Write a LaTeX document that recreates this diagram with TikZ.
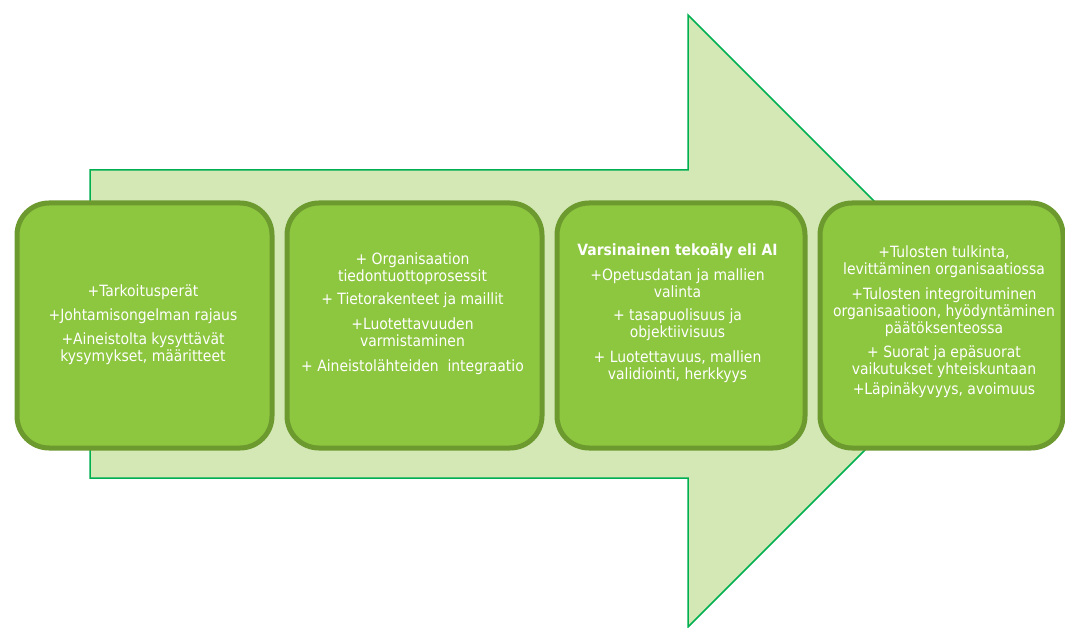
\documentclass[tikz,border=0pt]{standalone}
\usepackage{fontspec}
\setmainfont{DejaVu Sans Condensed}
\definecolor{boxfill}{HTML}{8DC63F}
\definecolor{boxline}{HTML}{6C9A2F}
\definecolor{arrfill}{HTML}{D4E8B6}
\definecolor{arrline}{HTML}{00B050}
\begin{document}
\begin{tikzpicture}[x=1pt,y=-1pt,
  stagebox/.style={draw=boxline, fill=boxfill, line width=5pt, rounded corners=32pt, inner sep=0pt, anchor=north west},
  stagetext/.style={text=white, align=center, font=\fontsize{15.5}{17}\selectfont, inner sep=0pt, anchor=north}]
\useasboundingbox (0,0) rectangle (1065,628);
% big background arrow
\draw[arrline, line width=1.5pt, fill=arrfill, line join=miter]
  (90,170) -- (688,170) -- (688,15) -- (994,321) -- (688,627) -- (688,478) -- (90,478) -- cycle;
% stage boxes
\node[stagebox, minimum width=255pt, minimum height=245pt] (b1) at (14.5,200.5) {};
\node[stagebox, minimum width=255pt, minimum height=245pt] (b2) at (284.5,200.5) {};
\node[stagebox, minimum width=248pt, minimum height=245pt] (b3) at (554.5,200.5) {};
\node[stagebox, minimum width=243pt, minimum height=245pt] (b4) at (817.5,200.5) {};
% texts
\node[stagetext] (t1) at (143,285) {+Tarkoitusperät\\[7pt] +Johtamisongelman rajaus\\[7pt] +Aineistolta kysyttävät\\ kysymykset, määritteet};
\node[stagetext] (t2) at (412.5,253) {+ Organisaation\\ tiedontuottoprosessit\\[6pt] + Tietorakenteet ja maillit\\[8pt] +Luotettavuuden\\ varmistaminen\\[8pt] + Aineistolähteiden\ \ integraatio};
\node[stagetext] (t3) at (677.5,243) {\textbf{Varsinainen tekoäly eli AI}\\[8pt] +Opetusdatan ja mallien\\ valinta\\[6pt] + tasapuolisuus ja\\ objektiivisuus\\[8pt] + Luotettavuus, mallien\\ validiointi, herkkyys};
\node[stagetext] (t4) at (944,246) {+Tulosten tulkinta,\\ levittäminen organisaatiossa\\[8pt] +Tulosten integroituminen\\ organisaatioon, hyödyntäminen\\ päätöksenteossa\\[7pt] + Suorat ja epäsuorat\\ vaikutukset yhteiskuntaan\\[3pt] +Läpinäkyvyys, avoimuus};
\end{tikzpicture}
\end{document}
